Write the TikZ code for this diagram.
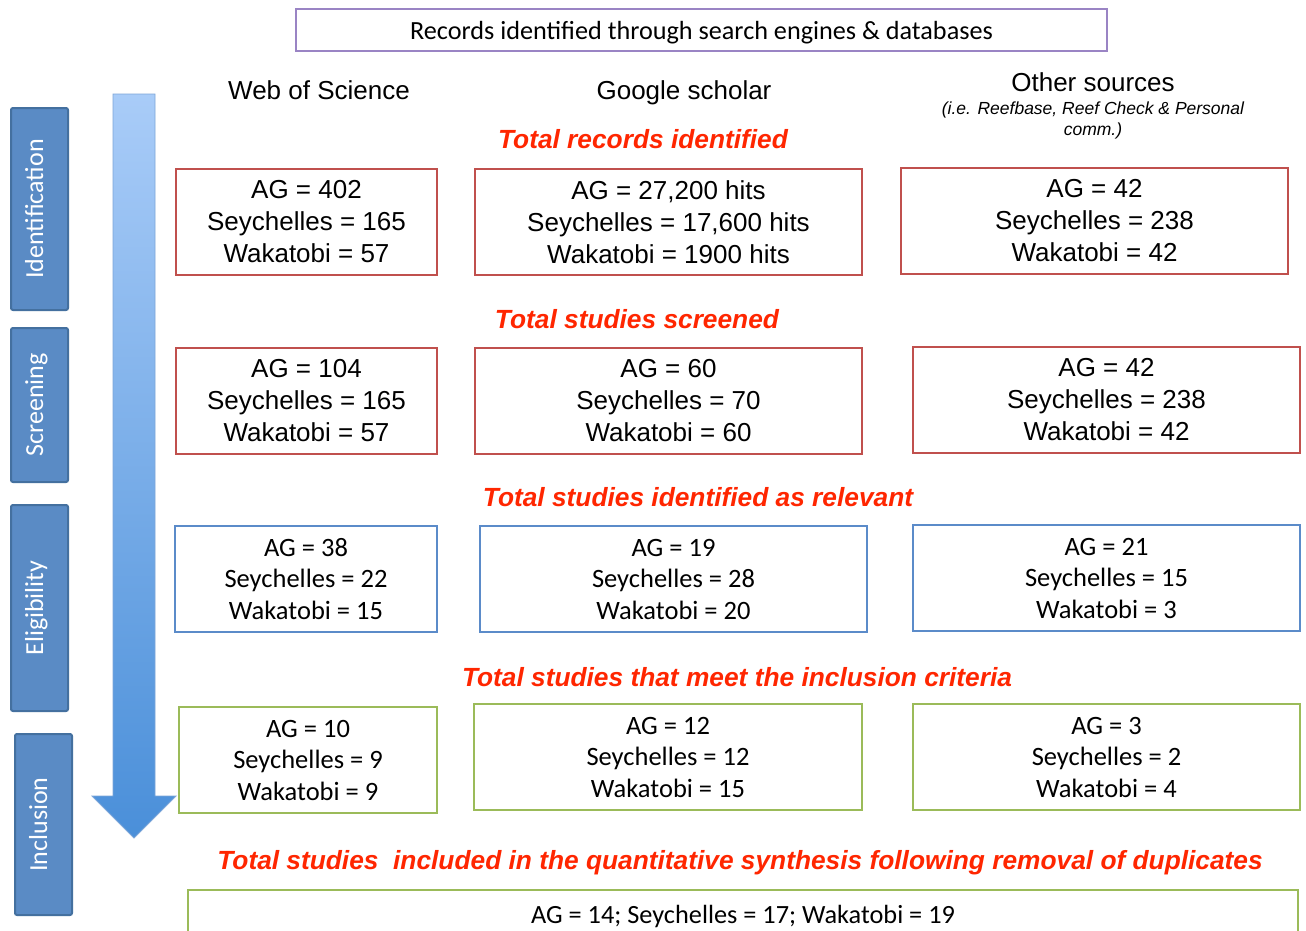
\documentclass[tikz,border=0pt]{standalone}
\usepackage{fontspec}
\setmainfont{Liberation Sans}
\newfontfamily\calfont{Carlito}
\definecolor{boxred}{HTML}{C0504D}
\definecolor{boxblue}{HTML}{5B8BC9}
\definecolor{boxgreen}{HTML}{9BBB59}
\definecolor{boxpurple}{HTML}{9A84C4}
\definecolor{headred}{HTML}{FF2600}
\definecolor{stagefill}{HTML}{5A8BC5}
\definecolor{stageedge}{HTML}{44709F}
\definecolor{arrowtop}{HTML}{A9CCF8}
\definecolor{arrowbottom}{HTML}{4A8FD9}
\definecolor{arrowedge}{HTML}{7DA6D8}
\begin{document}
\begin{tikzpicture}[x=1pt,y=-1pt,
  every node/.style={inner sep=0pt, outer sep=0pt},
  big/.style={font=\fontsize{26}{32}\selectfont},
  cbig/.style={font=\calfont\fontsize{26.5}{31.5}\selectfont},
  numbox/.style={draw, line width=1.5pt, align=center, minimum height=106pt,
    execute at begin node={\rule{0pt}{22pt}}},
  redbox/.style={numbox, draw=boxred, big},
  bluebox/.style={numbox, draw=boxblue, cbig, line width=2pt},
  greenbox/.style={numbox, draw=boxgreen, cbig, line width=2.2pt},
  stagelabel/.style={rotate=90, fill=stagefill, draw=stageedge, line width=2pt,
    rounded corners=2pt, text=white, font=\calfont\fontsize{26}{30}\selectfont,
    minimum height=57pt, text height=12pt, text depth=5pt},
  colhead/.style={big, text height=18pt, text depth=0pt},
  stephead/.style={text=headred, font=\bfseries\itshape\fontsize{26.3}{30}\selectfont,
    text height=18pt, text depth=0pt},
]
\clip (0,0) rectangle (1306,930);
\fill[white] (0,0) rectangle (1306,930);

% downward process arrow
\shade[top color=arrowtop, bottom color=arrowbottom, draw=arrowedge, line width=0.8pt]
  (113,94) -- (155,94) -- (155,796) -- (176,796) -- (134,838) -- (92,796) -- (113,796) -- cycle;

% stage labels
\node[stagelabel, minimum width=202pt] (sIdent) at (39.5,209) {Identification};
\node[stagelabel, minimum width=154pt] (sScreen) at (39.5,405) {Screening};
\node[stagelabel, minimum width=206pt] (sElig) at (39.5,608) {Eligibility};
\node[stagelabel, minimum width=181pt] (sIncl) at (43.5,824.5) {Inclusion};

% title box
\node[draw=boxpurple, line width=2.5pt, minimum width=811pt, minimum height=42pt,
  font=\calfont\fontsize{26.2}{30}\selectfont, text height=18pt, text depth=0pt] (title) at (701.5,30)
  {Records identified through search engines \& databases};

% column headings
\node[colhead] (hWos) at (319,90) {Web of Science};
\node[colhead] (hGs) at (684,90) {Google scholar};
\node[colhead] (hOther) at (1093,82) {Other sources};
\node[align=center, font=\itshape\fontsize{17.5}{21}\selectfont] (hOtherSub) at (1093,120)
  {(i.e. Reefbase, Reef Check \& Personal\\comm.)};

% identification
\node[stephead] (tRec) at (643,139) {Total records identified};
\node[redbox, minimum width=261pt] (r11) at (306.5,222) {AG = 402\\Seychelles = 165\\Wakatobi = 57};
\node[redbox, minimum width=387pt] (r12) at (668.5,222) {AG = 27,200 hits\\Seychelles = 17,600 hits\\Wakatobi = 1900 hits};
\node[redbox, minimum width=387pt] (r13) at (1094.5,221) {AG = 42\\Seychelles = 238\\Wakatobi = 42};

% screening
\node[stephead] (tScr) at (637,319) {Total studies screened};
\node[redbox, minimum width=261pt] (r21) at (306.5,401) {AG = 104\\Seychelles = 165\\Wakatobi = 57};
\node[redbox, minimum width=387pt] (r22) at (668.5,401) {AG = 60\\Seychelles = 70\\Wakatobi = 60};
\node[redbox, minimum width=387pt] (r23) at (1106.5,400) {AG = 42\\Seychelles = 238\\Wakatobi = 42};

% eligibility
\node[stephead] (tRel) at (698,497) {Total studies identified as relevant};
\node[bluebox, minimum width=262pt] (r31) at (306,579) {AG = 38\\Seychelles = 22\\Wakatobi = 15};
\node[bluebox, minimum width=387pt] (r32) at (673.5,579) {AG = 19\\Seychelles = 28\\Wakatobi = 20};
\node[bluebox, minimum width=387pt] (r33) at (1106.5,578) {AG = 21\\Seychelles = 15\\Wakatobi = 3};

% inclusion
\node[stephead] (tInc) at (737,677) {Total studies that meet the inclusion criteria};
\node[greenbox, minimum width=258pt] (r41) at (308,760) {AG = 10\\Seychelles = 9\\Wakatobi = 9};
\node[greenbox, minimum width=388pt] (r42) at (668,757) {AG = 12\\Seychelles = 12\\Wakatobi = 15};
\node[greenbox, minimum width=387pt] (r43) at (1106.5,757) {AG = 3\\Seychelles = 2\\Wakatobi = 4};

% final synthesis
\node[stephead] (tFinal) at (740,860) {Total studies~ included in the quantitative synthesis following removal of duplicates};
\node[draw=boxgreen, line width=2.2pt, minimum width=1110pt, minimum height=50pt,
  anchor=north] (final) at (743,890) {};
\node[font=\calfont\fontsize{26.3}{30}\selectfont, anchor=base] (finalText) at (743,923)
  {AG = 14; Seychelles = 17; Wakatobi = 19};
\end{tikzpicture}
\end{document}
